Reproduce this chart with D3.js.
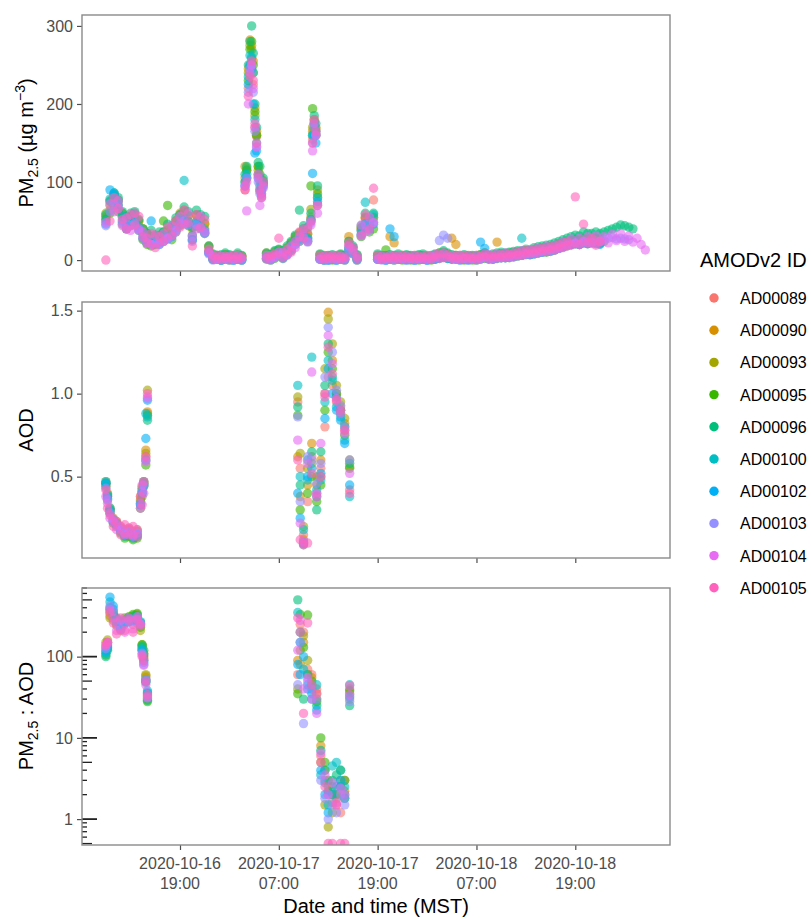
<!DOCTYPE html>
<html><head><meta charset="utf-8">
<script src="https://cdn.jsdelivr.net/npm/d3@7"></script>
<style>body{margin:0;background:#fff;} svg{display:block;font-family:"Liberation Sans",Arial,sans-serif;}</style>
</head><body><svg id="chart" width="811" height="920"></svg>
<script>
const _ = null;
const sensors = ["AD00089","AD00090","AD00093","AD00095","AD00096","AD00100","AD00102","AD00103","AD00104","AD00105"];
const sensorColors = ["#F8766D","#D89000","#A3A500","#39B600","#00BF7D","#00BFC4","#00B0F6","#9590FF","#E76BF3","#FF62BC"];

// hours since 2020-10-16 00:00 MST
const pmTimes = [
10,10.5,11,11.5,12,12.5,13,13.5,14,14.5,
15,15.5,16,16.5,17,17.5,18,18.5,19,19.5,
20,20.5,21,21.5,22,22.5,23,23.5,24,24.5,
25,25.5,26,26.5,26.9,27.1,27.3,27.5,27.7,27.9,
28.1,28.3,28.5,28.7,28.9,29.1,29.5,30,30.5,31,
31.5,32,32.5,33,33.5,34,34.5,34.9,35.1,35.3,
35.5,35.7,36,36.5,37,37.5,38,38.5,39,39.5,
40,40.5,41,41.5,42,42.5,43,43.5,44,44.5,
45,45.5,46,46.5,47,47.5,48,48.5,49,49.5,
50,50.5,51,51.5,52,52.5,53,53.5,54,54.5,
55,55.5,56,56.5,57,57.5,58,58.5,59,59.5,
60,60.5,61,61.5,62,62.5,63,63.5,64,64.5,
65,65.5,66,66.5,67,67.5,68,68.5,69,69.5,
70,70.5,71,71.5,72,72.5,73,73.5,74,74.5,
75,75.5];

const pmAD00089 = [
54,64,77,71,55,46,50,53,44,34,
28,24,26,26,29,33,36,44,51,57,
50,32,50,47,40,12,3,3,2,4,
3,2,4,3,90,105,220,250,258,225,
170,158,108,88,82,96,5,3,7,10,
7,12,18,26,30,35,29,52,155,178,
162,72,4,3,2,3,2,3,3,19,
14,3,38,53,44,77,3,3,2,3,
2,3,3,2,3,2,3,3,2,3,
4,5,7,5,4,3,3,3,2,3,
3,4,6,3,4,5,5,6,6,7,
8,8,10,9,11,12,12,14,15,16,
18,20,22,22,24,22,25,24,24,23,
22,_,_,_,_,_,_,_,_,_,
_,_];
const pmAD00090 = [
56,76,84,77,60,52,56,60,50,40,
34,30,32,31,35,39,42,50,60,64,
57,42,58,53,47,18,7,6,5,7,
6,5,7,5,120,115,245,282,275,255,
195,165,120,105,95,102,9,6,11,13,
10,15,22,30,34,40,33,55,165,175,
168,90,7,6,5,6,5,7,6,30,
16,6,41,54,47,55,6,5,6,30,
22,6,5,6,5,6,5,6,5,5,
7,9,10,8,28,20,6,5,6,5,
6,7,9,5,6,23,8,8,9,9,
10,11,12,12,13,14,15,16,17,18,
20,22,24,24,26,25,27,26,27,27,
26,_,_,_,_,_,_,_,_,_,
_,_];
const pmAD00093 = [
60,70,82,76,60,52,56,58,50,40,
33,30,31,32,36,38,41,50,58,62,
57,40,57,53,46,17,6,5,5,7,
5,5,6,5,105,118,240,275,270,240,
185,160,115,100,90,100,8,5,10,13,
10,16,22,30,35,40,34,65,170,180,
170,80,6,5,5,5,5,6,5,24,
16,5,41,55,48,54,6,5,5,6,
5,5,6,5,5,5,6,5,5,5,
6,7,9,7,6,6,5,5,5,5,
5,6,7,6,6,7,8,8,8,9,
10,11,12,12,13,14,15,16,17,18,
20,22,24,25,26,25,27,27,28,28,
27,_,_,_,_,_,_,_,_,_,
_,_];
const pmAD00095 = [
52,60,70,62,46,40,44,46,38,26,
20,18,20,22,50,70,26,36,44,50,
44,26,44,40,34,10,1,2,0,1,
0,1,1,0,100,115,230,270,280,250,
190,160,120,110,95,98,1,0,2,6,
2,7,12,20,24,30,24,95,194,170,
160,85,1,0,1,0,1,1,0,14,
8,0,30,46,36,40,1,2,13,1,
0,1,0,1,0,1,0,1,1,0,
1,2,4,2,1,2,1,0,1,0,
0,1,2,1,1,2,3,3,3,4,
5,6,7,7,8,9,10,10,11,13,
15,17,18,20,21,20,22,21,22,23,
22,24,_,_,_,_,_,_,_,_,
_,_];
const pmAD00096 = [
58,75,86,80,62,56,60,62,52,40,
34,38,30,36,36,46,44,54,58,68,
62,42,64,58,56,18,8,6,7,9,
7,5,9,6,110,120,250,280,300,265,
200,170,125,120,100,105,9,7,12,14,
12,18,24,32,64,44,42,60,160,185,
175,95,8,5,6,7,5,8,6,24,
18,7,44,60,52,60,8,6,5,7,
6,8,5,7,6,5,7,8,5,6,
8,9,12,9,7,6,5,7,5,6,
5,7,9,6,8,9,10,9,10,11,
12,12,14,13,16,17,18,19,20,22,
24,26,28,30,32,31,36,34,34,36,
34,36,38,40,42,45,44,42,40,_,
_,_];
const pmAD00100 = [
50,78,86,76,56,44,52,52,42,32,
26,22,26,24,28,31,34,42,50,102,
49,31,49,45,38,10,1,1,0,2,
1,0,2,1,100,110,235,262,260,240,
180,150,110,95,90,100,3,1,5,8,
4,10,16,24,28,34,28,52,160,175,
165,80,2,1,0,1,0,2,1,16,
11,1,38,74,43,58,1,1,0,1,
1,2,1,1,1,0,1,2,0,1,
2,3,5,3,2,1,1,1,1,1,
1,2,4,2,2,3,4,4,4,5,
6,28,8,7,9,10,11,12,13,14,
16,18,20,20,22,20,23,22,23,22,
21,_,_,_,_,_,_,_,_,_,
_,_];
const pmAD00102 = [
46,90,84,70,50,40,45,48,40,28,
22,50,21,20,24,27,30,38,46,52,
46,26,46,42,35,9,1,1,0,2,
1,0,1,0,95,105,225,250,245,200,
137,140,105,90,85,95,2,1,4,6,
3,8,14,22,26,32,26,50,111,160,
150,75,1,0,0,1,0,1,1,12,
9,1,33,46,40,46,1,1,0,40,
30,1,1,0,1,0,1,1,0,1,
1,3,4,2,1,1,0,1,0,1,
1,23,15,2,1,3,3,3,4,5,
6,6,8,7,8,9,10,11,12,13,
15,17,19,20,21,20,22,21,22,21,
20,_,_,_,_,_,_,_,_,_,
_,_];
const pmAD00103 = [
44,62,72,66,48,40,44,47,38,28,
22,20,21,20,24,27,30,38,46,50,
45,24,45,41,34,8,0,1,0,2,
0,0,1,0,95,105,215,245,250,215,
165,145,100,85,80,92,2,0,3,6,
2,7,12,20,24,30,23,48,150,170,
160,70,1,0,0,1,0,1,0,13,
9,0,31,46,38,48,1,0,0,1,
0,1,1,0,1,0,1,1,0,1,
2,25,32,28,2,1,0,1,0,1,
0,1,3,1,1,2,3,3,4,4,
5,6,7,7,8,9,10,11,12,13,
15,17,19,20,21,20,22,22,23,22,
24,26,28,29,27,28,27,26,_,_,
_,_];
const pmAD00104 = [
48,72,62,76,44,54,38,60,40,36,
28,20,32,22,34,28,44,36,56,46,
60,30,40,56,36,10,6,1,5,2,
5,1,6,2,95,63,200,240,250,220,
170,145,105,70,85,95,6,1,4,10,
10,6,18,16,30,40,24,45,140,175,
160,60,1,5,2,6,1,5,2,18,
16,5,45,36,55,48,1,5,2,6,
2,6,1,5,2,6,1,4,1,5,
7,2,9,3,6,1,6,2,5,1,
6,2,4,7,2,8,3,9,4,9,
6,12,8,13,9,15,11,17,13,19,
15,23,18,27,22,28,24,30,22,31,
24,30,22,33,25,34,24,31,23,28,
20,13];
const pmAD00105 = [
0,50,80,66,52,40,58,45,56,30,
22,34,16,30,24,42,32,50,42,64,
48,18,58,42,52,14,2,6,1,5,
2,6,1,4,90,100,210,235,255,230,
175,150,110,90,80,100,2,6,8,28,
4,14,10,24,36,28,40,50,150,180,
165,70,6,1,5,2,6,1,4,22,
12,2,32,58,40,92,6,1,4,2,
5,1,6,2,4,1,5,2,6,1,
4,8,3,7,2,5,1,6,2,4,
1,5,8,2,6,3,7,4,8,5,
10,6,12,8,14,10,15,11,17,13,
20,16,24,19,81,20,46,22,28,19,
23,_,_,_,_,_,_,_,_,_,
_,_];

const aodTimes = [10,10.2,10.5,10.9,11.3,11.8,12.3,12.8,13.3,13.8,14.2,14.4,14.6,14.85,15.05,
  33.3,33.6,34,34.5,35,35.6,36.1,36.6,37,37.5,38,38.5,39,39.6];
const aodAD00089 = [0.45,0.38,0.3,0.24,0.22,0.19,0.17,0.18,0.16,0.17,0.35,0.42,0.46,0.62,0.88, 0.95,0.55,0.15,0.35,0.62,0.4,0.55,0.8,1.1,1.05,0.95,0.9,0.78,0.42];
const aodAD00090 = [0.47,0.4,0.31,0.25,0.23,0.2,0.18,0.19,0.17,0.18,0.38,0.44,0.47,0.66,0.89, 0.62,0.38,0.12,0.45,0.7,0.45,0.6,1.0,1.49,1.2,1.0,0.92,0.82,0.56];
const aodAD00093 = [0.46,0.39,0.3,0.24,0.22,0.19,0.17,0.18,0.16,0.17,0.36,0.43,0.46,0.64,1.02, 0.98,0.64,0.2,0.55,0.58,0.5,0.5,1.15,1.45,1.3,1.05,0.95,0.85,0.6];
const aodAD00095 = [0.44,0.36,0.28,0.22,0.2,0.16,0.13,0.14,0.12,0.13,0.31,0.38,0.44,0.57,0.87, 0.87,0.3,0.1,0.4,0.5,0.35,0.45,0.9,1.25,1.15,1.0,0.88,0.75,0.55];
const aodAD00096 = [0.46,0.38,0.3,0.23,0.21,0.17,0.14,0.15,0.13,0.14,0.33,0.4,0.45,0.6,0.84, 0.92,0.45,0.09,0.6,0.65,0.3,0.65,1.05,1.3,1.1,0.98,0.9,0.8,0.58];
const aodAD00100 = [0.47,0.39,0.31,0.24,0.22,0.18,0.15,0.16,0.14,0.15,0.34,0.41,0.47,0.88,0.86, 1.05,0.5,0.18,0.48,1.22,0.42,0.48,0.95,1.2,1.08,0.92,0.86,0.72,0.38];
const aodAD00102 = [0.46,0.37,0.29,0.23,0.21,0.18,0.15,0.16,0.14,0.15,0.33,0.4,0.45,0.73,0.96, 0.4,0.25,0.1,0.5,0.55,0.38,0.52,0.85,1.15,1.0,0.9,0.84,0.7,0.45];
const aodAD00103 = [0.43,0.36,0.28,0.23,0.21,0.18,0.16,0.17,0.15,0.16,0.34,0.41,0.45,0.6,0.97, 0.86,0.35,0.11,0.62,0.6,0.46,0.58,1.1,1.4,1.25,1.02,0.93,0.8,0.6];
const aodAD00104 = [0.38,0.34,0.25,0.24,0.18,0.2,0.15,0.19,0.14,0.18,0.31,0.45,0.4,0.59,0.98, 0.72,0.22,0.1,0.58,1.13,0.4,0.7,1.0,1.35,1.18,0.97,0.88,0.76,0.52];
const aodAD00105 = [0.42,0.31,0.27,0.2,0.23,0.15,0.21,0.15,0.2,0.14,0.38,0.33,0.47,0.62,1.0, 0.6,0.12,0.09,0.1,0.52,0.38,0.5,0.98,1.28,1.12,0.96,0.9,0.78,0.4];

const ratioTimes = [10,10.2,10.5,10.9,11.3,11.8,12.3,12.8,13.3,13.8,14.2,14.4,14.6,14.85,15.05,
  33.3,33.6,34,34.5,35,35.6,36.1,36.6,37,37.5,38,38.5,39,39.6];
const ratioAD00089 = [120,140,320,300,250,220,260,270,250,260,240,120,95,55,35, 60,250,200,70,60,40,6,3,2.5,2,1.5,1.2,3,40];
const ratioAD00090 = [130,150,350,320,260,230,280,290,280,300,260,130,100,58,33, 90,80,150,60,55,35,8,4,2,1.6,2,3,2.2,30];
const ratioAD00093 = [150,160,300,280,240,210,270,300,320,330,210,140,110,60,30, 40,120,180,90,45,30,5,1.5,0.8,1.2,1.8,2.5,1.8,35];
const ratioAD00095 = [105,125,380,350,290,240,300,310,330,340,230,140,120,50,28, 35,330,130,325,50,28,10,5,3,2.5,2,4,3,38];
const ratioAD00096 = [100,120,400,330,300,250,280,300,310,320,250,135,105,48,29, 500,200,30,60,40,25,7,4,2.2,3,3.5,2.5,2,25];
const ratioAD00100 = [110,130,470,380,280,230,270,280,290,300,270,125,90,52,38, 350,150,70,45,30,45,3.5,2.8,1.5,4.5,5,4,2.5,45];
const ratioAD00102 = [115,135,540,420,270,220,260,270,280,290,260,120,85,50,36, 80,60,100,40,35,22,4,2,1.2,2,2.5,3,1.8,32];
const ratioAD00103 = [125,145,420,360,260,215,250,270,275,285,255,110,80,52,32, 45,150,15,50,40,30,3,1.8,1,1.5,1.2,2,1.5,28];
const ratioAD00104 = [135,150,380,300,210,280,200,300,220,310,250,105,78,45,31, 120,280,40,55,30,20,6.5,3.5,2,2.8,1.6,2.4,2,34];
const ratioAD00105 = [140,150,350,260,190,300,210,280,200,290,240,100,90,50,34, 300,200,20,260,45,35,5,2.5,0.5,0.5,1.5,0.5,0.5,44];

const xTickHours = [19,31,43,55,67];
const pmTicks = [0,100,200,300];
const aodTicks = [0.5,1.0,1.5];
const ratioTicks = [1,10,100];

const pmSeries = [pmAD00089,pmAD00090,pmAD00093,pmAD00095,pmAD00096,pmAD00100,pmAD00102,pmAD00103,pmAD00104,pmAD00105];
const aodSeries = [aodAD00089,aodAD00090,aodAD00093,aodAD00095,aodAD00096,aodAD00100,aodAD00102,aodAD00103,aodAD00104,aodAD00105];
const ratioSeries = [ratioAD00089,ratioAD00090,ratioAD00093,ratioAD00095,ratioAD00096,ratioAD00100,ratioAD00102,ratioAD00103,ratioAD00104,ratioAD00105];

const svg = d3.select("#chart");
const left = 82, right = 670;
const toDate = h => new Date(Date.UTC(2020, 9, 16) + h * 3600e3);
const x = d3.scaleUtc().domain([toDate(7.1), toDate(78.5)]).range([left, right]);
const color = d3.scaleOrdinal().domain(sensors).range(sensorColors);

const panels = [
  {top: 15, bottom: 271, y: d3.scaleLinear().domain([-14, 314]).range([271, 15]), times: pmTimes, series: pmSeries, ticks: pmTicks, fmt: d3.format("d")},
  {top: 302, bottom: 558, y: d3.scaleLinear().domain([0.01, 1.552]).range([558, 302]), times: aodTimes, series: aodSeries, ticks: aodTicks, fmt: d3.format(".1f")},
  {top: 588, bottom: 845, y: d3.scaleLog().domain([0.48, 700]).range([845, 588]), times: ratioTimes, series: ratioSeries, ticks: ratioTicks, fmt: d3.format("d"), log: true}
];

panels.forEach((p, pi) => {
  const cid = "clip" + pi;
  svg.append("clipPath").attr("id", cid).append("rect")
    .attr("x", left).attr("y", p.top).attr("width", right - left).attr("height", p.bottom - p.top);
  const pts = [];
  p.series.forEach((vals, k) => {
    p.times.forEach((t, i) => {
      const v = vals[i];
      if (v !== null && v !== undefined) pts.push({t, v, s: sensors[k]});
    });
  });
  svg.append("g").attr("clip-path", `url(#${cid})`)
    .selectAll("circle").data(pts).join("circle")
    .attr("cx", d => x(toDate(d.t))).attr("cy", d => p.y(d.v)).attr("r", 4.7)
    .attr("fill", d => color(d.s)).attr("fill-opacity", 0.6);

  const ya = svg.append("g").attr("transform", `translate(${left},0)`)
    .call(d3.axisLeft(p.y).tickValues(p.ticks).tickFormat(p.fmt).tickSize(5).tickPadding(4));
  ya.select(".domain").remove();
  ya.selectAll("line").attr("stroke", "#4d4d4d").attr("stroke-width", 1.2);
  ya.selectAll("text").attr("fill", "#4d4d4d").style("font-size", "16px").style("font-family", '"Liberation Sans",Arial,sans-serif');

  const xa = svg.append("g").attr("transform", `translate(0,${p.bottom})`)
    .call(d3.axisBottom(x).tickValues(xTickHours.map(toDate)).tickSize(5).tickFormat(""));
  xa.select(".domain").remove();
  xa.selectAll("line").attr("stroke", "#4d4d4d").attr("stroke-width", 1.2);

  if (p.log) {
    const lt = [];
    [0.1, 1, 10, 100].forEach(dec => {
      for (let m = 1; m <= 9; m++) {
        const v = m * dec;
        if (v >= 0.48 && v <= 700) lt.push({v, len: m === 1 ? 15 : (m === 5 ? 10 : 5), w: m === 1 ? 1.8 : 1.3});
      }
    });
    svg.append("g").selectAll("line").data(lt).join("line")
      .attr("x1", left).attr("x2", d => left + d.len)
      .attr("y1", d => p.y(d.v)).attr("y2", d => p.y(d.v))
      .attr("stroke", "#222").attr("stroke-width", d => d.w);
  }

  svg.append("rect").attr("x", left).attr("y", p.top).attr("width", right - left).attr("height", p.bottom - p.top)
    .attr("fill", "none").attr("stroke", "#8a8a8a").attr("stroke-width", 1.4);
});

const fDate = d3.utcFormat("%Y-%m-%d"), fTime = d3.utcFormat("%H:%M");
const xl = svg.append("g").selectAll("text").data(xTickHours.map(toDate)).join("text")
  .attr("text-anchor", "middle").attr("fill", "#4d4d4d").style("font-size", "16px");
xl.append("tspan").attr("x", d => x(d)).attr("y", 869).text(d => fDate(d));
xl.append("tspan").attr("x", d => x(d)).attr("y", 889).text(d => fTime(d));

svg.append("text").attr("x", (left + right) / 2).attr("y", 913).attr("text-anchor", "middle")
  .style("font-size", "20px").attr("fill", "#000").text("Date and time (MST)");

function yTitle(cy, parts) {
  const t = svg.append("text").attr("transform", `translate(33,${cy}) rotate(-90)`)
    .attr("text-anchor", "middle").style("font-size", "20px").attr("fill", "#000");
  parts.forEach(([txt, dy, fs]) => {
    t.append("tspan").attr("dy", dy).style("font-size", fs + "px").text(txt);
  });
}
yTitle(143, [["PM", 0, 20], ["2.5", 5, 14], [" (µg m", -5, 20], ["−3", -8, 14], [")", 8, 20]]);
yTitle(430, [["AOD", 0, 20]]);
yTitle(716, [["PM", 0, 20], ["2.5", 5, 14], [" : AOD", -5, 20]]);

svg.append("text").attr("x", 700).attr("y", 267).style("font-size", "20px").attr("fill", "#000").text("AMODv2 ID");
const lg = svg.append("g").selectAll("g").data(sensors).join("g")
  .attr("transform", (d, i) => `translate(714,${298 + i * 32.2})`);
lg.append("circle").attr("r", 4.7).attr("fill", d => color(d));
lg.append("text").attr("x", 26).attr("y", 6).style("font-size", "16px").attr("fill", "#000").text(d => d);
</script>
</body></html>
